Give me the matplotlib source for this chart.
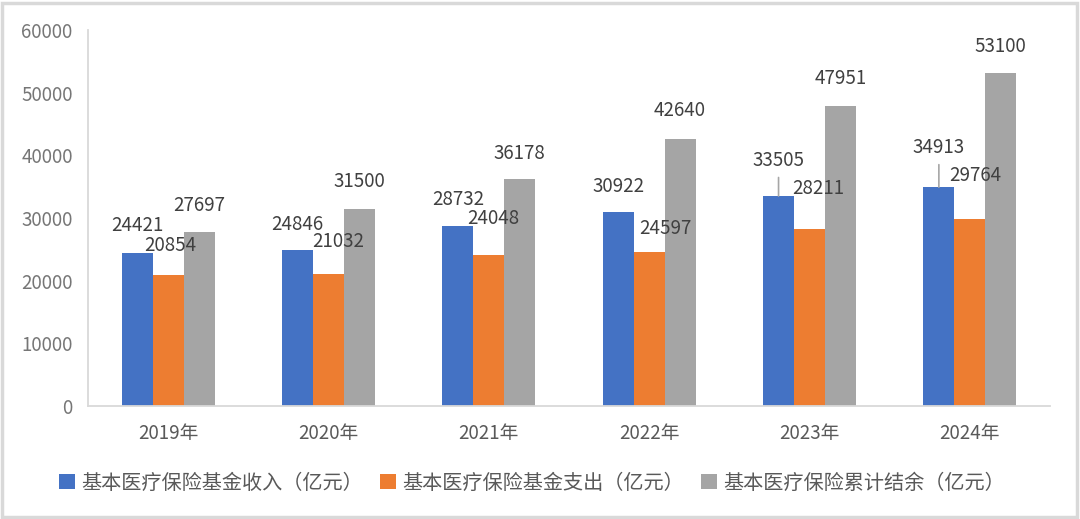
import numpy as np
import matplotlib
matplotlib.use('Agg')
import matplotlib.pyplot as plt
from matplotlib.patches import Rectangle

plt.rcParams['font.family'] = ['Noto Sans CJK SC', 'DejaVu Sans']

years = ['2019年', '2020年', '2021年', '2022年', '2023年', '2024年']
income = [24421, 24846, 28732, 30922, 33505, 34913]
expense = [20854, 21032, 24048, 24597, 28211, 29764]
balance = [27697, 31500, 36178, 42640, 47951, 53100]

series_names = ['基本医疗保险基金收入（亿元）', '基本医疗保险基金支出（亿元）', '基本医疗保险累计结余（亿元）']
colors = ['#4472C4', '#ED7D31', '#A5A5A5']

# label offsets (pixels) from the bar top, the way they were dragged in the original
label_dx = [[0, 0, 0, 0, 0, 0],
            [2, 10, 4, 16, 9, 5],
            [0, 0, 0, 0, 0, 0]]
label_dy = [[27, 26, 26, 26, 36, 40],
            [30, 33, 37, 23, 41, 44],
            [27, 27, 26, 28, 27, 27]]
leader = [[False, False, False, False, True, True],
          [False] * 6,
          [False] * 6]

fig = plt.figure(figsize=(10.8, 5.19), dpi=100)
ax = fig.add_axes([0.0815, 0.2177, 0.8907, 0.7245])

x = np.arange(len(years))
w = 0.193
data = [income, expense, balance]
for k, vals in enumerate(data):
    pos = x + (k - 1) * w
    ax.bar(pos, vals, width=w, color=colors[k], label=series_names[k])
    for i, v in enumerate(vals):
        kw = {}
        if leader[k][i]:
            kw['arrowprops'] = dict(arrowstyle='-', color='#a6a6a6', lw=1.2,
                                    shrinkA=3, shrinkB=0)
        ax.annotate(str(v), xy=(pos[i], v), xytext=(label_dx[k][i], label_dy[k][i]),
                    textcoords='offset pixels', ha='center', va='center',
                    fontsize=13.5, color='#404040', fontweight='light', **kw)

ax.set_xlim(-0.5, len(years) - 0.5)
ax.set_ylim(0, 60000)
ax.set_yticks(range(0, 60001, 10000))
ax.set_xticks(x)
ax.set_xticklabels(years)
ax.tick_params(axis='both', length=0, labelsize=13.5, colors='#595959')
ax.tick_params(axis='y', pad=11, colors='#767676')
ax.tick_params(axis='x', pad=12)
for s in ['top', 'right']:
    ax.spines[s].set_visible(False)
for s in ['left', 'bottom']:
    ax.spines[s].set_color('#d9d9d9')
    ax.spines[s].set_linewidth(1.3)

leg = fig.legend(loc='center', bbox_to_anchor=(0.4926, 0.069), ncol=3, frameon=False,
                 fontsize=14.5, handlelength=0.8, handleheight=0.8, handletextpad=0.3,
                 columnspacing=0.85)
for t in leg.get_texts():
    t.set_color('#595959')

fig.patches.append(Rectangle((0.002, 0.004), 0.995, 0.991, transform=fig.transFigure,
                             fill=False, edgecolor='#d9d9d9', linewidth=2.5))

fig.savefig('out.png', dpi=100)
